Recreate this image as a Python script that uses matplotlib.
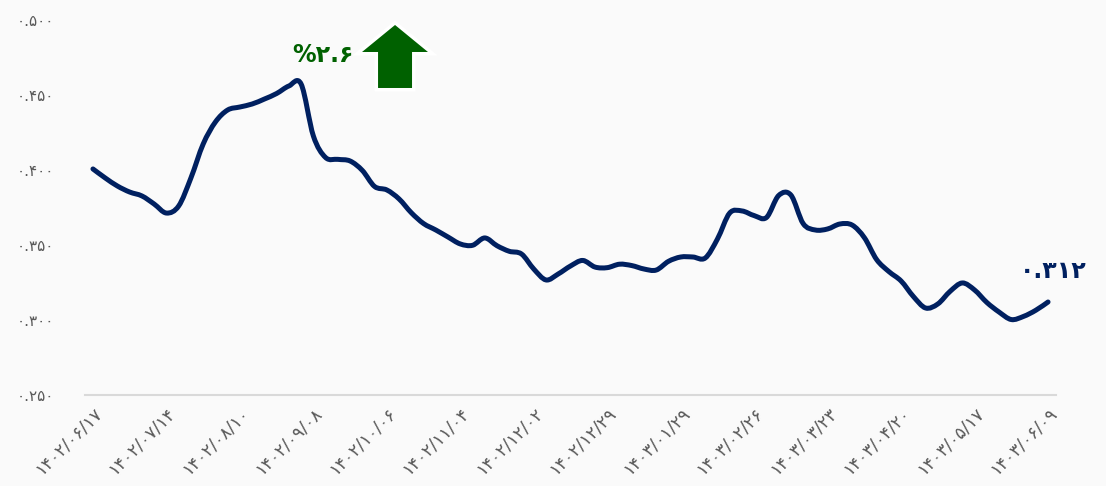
import matplotlib
matplotlib.use("Agg")
import matplotlib.pyplot as plt
import matplotlib.patheffects as pe
from matplotlib.patches import Polygon, PathPatch
from matplotlib.path import Path

# values (one point every ~12 px, 6 points per tick)
values = [
    0.4007, 0.3947, 0.3893, 0.3853, 0.3827, 0.3773, 0.3713, 0.3760, 0.3947, 0.4173,
    0.4320, 0.4400, 0.4420, 0.4440, 0.4473, 0.4510, 0.4560, 0.4573, 0.4227, 0.4083,
    0.4071, 0.4060, 0.3997, 0.3890, 0.3867, 0.3807, 0.3715, 0.3643, 0.3600, 0.3553,
    0.3507, 0.3498, 0.3547, 0.3495, 0.3458, 0.3440, 0.3340, 0.3267, 0.3307, 0.3360,
    0.3397, 0.3353, 0.3349, 0.3372, 0.3363, 0.3340, 0.3333, 0.3391, 0.3420, 0.3420,
    0.3413, 0.3540, 0.3713, 0.3727, 0.3696, 0.3683, 0.3830, 0.3833, 0.3643, 0.3600,
    0.3607, 0.3640, 0.3633, 0.3549, 0.3403, 0.3323, 0.3260, 0.3157, 0.3080, 0.3107,
    0.3191, 0.3247, 0.3200, 0.3117, 0.3053, 0.3003, 0.3024, 0.3065, 0.3120,
]
tick_step = 6
x_labels = [
    "۱۴۰۲/۰۶/۱۷", "۱۴۰۲/۰۷/۱۴", "۱۴۰۲/۰۸/۱۰", "۱۴۰۲/۰۹/۰۸", "۱۴۰۲/۱۰/۰۶",
    "۱۴۰۲/۱۱/۰۴", "۱۴۰۲/۱۲/۰۲", "۱۴۰۲/۱۲/۲۹", "۱۴۰۳/۰۱/۲۹", "۱۴۰۳/۰۲/۲۶",
    "۱۴۰۳/۰۳/۲۳", "۱۴۰۳/۰۴/۲۰", "۱۴۰۳/۰۵/۱۷", "۱۴۰۳/۰۶/۰۹",
]
y_ticks = [0.25, 0.30, 0.35, 0.40, 0.45, 0.50]
y_labels = ["۰.۲۵۰", "۰.۳۰۰", "۰.۳۵۰", "۰.۴۰۰", "۰.۴۵۰", "۰.۵۰۰"]
last_label = "۰.۳۱۲"
change_label = "%۲.۶"

navy = "#002060"
green = "#006100"
gray = "#595959"
bg = "#fafafa"

plt.rcParams["font.family"] = ["DejaVu Sans"]


def smooth_path(xs, ys):
    # Excel-style "smoothed line": cubic bezier segments through every point
    pts = list(zip(xs, ys))
    verts = [pts[0]]
    codes = [Path.MOVETO]
    n = len(pts)
    for i in range(n - 1):
        p0 = pts[max(i - 1, 0)]
        p1 = pts[i]
        p2 = pts[i + 1]
        p3 = pts[min(i + 2, n - 1)]
        c1 = (p1[0] + (p2[0] - p0[0]) / 6, p1[1] + (p2[1] - p0[1]) / 6)
        c2 = (p2[0] - (p3[0] - p1[0]) / 6, p2[1] - (p3[1] - p1[1]) / 6)
        verts += [c1, c2, p2]
        codes += [Path.CURVE4] * 3
    return Path(verts, codes)


fig = plt.figure(figsize=(11.06, 4.86), dpi=100, facecolor=bg)
ax = fig.add_axes([85 / 1106, 91 / 486, 971 / 1106, 375 / 486], facecolor=bg)

xs = list(range(len(values)))
ax.add_patch(PathPatch(smooth_path(xs, values), fill=False, edgecolor=navy, lw=3.6,
                       joinstyle="round", capstyle="round"))

ax.set_xlim(-0.65, len(values) - 1 + 0.65)
ax.set_ylim(0.25, 0.50)

ax.set_xticks(xs[::tick_step])
ax.set_xticklabels(x_labels, rotation=45, ha="right", va="top",
                   rotation_mode="anchor", fontsize=12.5, color=gray)
ax.set_yticks(y_ticks)
ax.set_yticklabels(y_labels, fontsize=11, color=gray)
ax.tick_params(axis="both", length=0)
ax.tick_params(axis="y", pad=22)
ax.tick_params(axis="x", pad=6)

for side in ("top", "right", "left"):
    ax.spines[side].set_visible(False)
ax.spines["bottom"].set_color("#d9d9d9")
ax.spines["bottom"].set_linewidth(1.5)

# end value label
ax.annotate(last_label, (xs[-1], values[-1]), xytext=(4, 22), textcoords="offset points",
            ha="center", va="center", fontsize=17, fontweight="bold", color=navy)

# change badge: text + green up arrow with a white rim
ax.text(0.245, 0.907, change_label, transform=ax.transAxes, ha="center", va="center",
        fontsize=17, fontweight="bold", color=green)
arrow = [
    (0.3018, 0.8187), (0.3368, 0.8187), (0.3368, 0.9147), (0.3532, 0.9147),
    (0.3193, 0.9867), (0.2853, 0.9147), (0.3018, 0.9147),
]
ax.add_patch(Polygon(arrow, closed=True, transform=ax.transAxes, facecolor=green,
                     edgecolor="none", clip_on=False,
                     path_effects=[pe.Stroke(linewidth=5, foreground="white"), pe.Normal()]))

fig.savefig("out.png", dpi=100, facecolor=bg)
